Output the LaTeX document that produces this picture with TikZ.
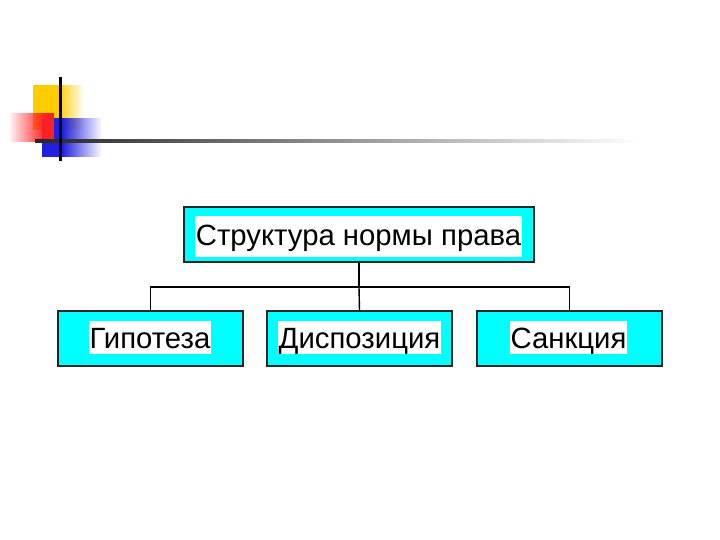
\documentclass[tikz,border=0pt]{standalone}
\usepackage{fontspec}
\setmainfont{Liberation Sans}
\usetikzlibrary{fadings}
\definecolor{boxcyan}{HTML}{00FFFF}
\definecolor{decoyellow}{HTML}{FFCC00}
\definecolor{decored}{HTML}{FF2020}
\definecolor{decoblue}{HTML}{2020E0}
\tikzset{
  box/.style={draw=black!85, line width=1.6pt, fill=boxcyan, inner sep=0pt, minimum height=55pt},
  lbl/.style={fill=white, inner xsep=1pt, inner ysep=3pt, anchor=base, font=\fontsize{29.3}{32}\selectfont, text height=24.5pt, text depth=3pt},
  toplbl/.style={lbl, text height=26pt, text depth=9pt},
  conn/.style={draw=black, line width=1.4pt}
}
\begin{document}
\begin{tikzpicture}[x=1pt,y=-1pt]
\useasboundingbox (0,0) rectangle (720,540);
% decoration
\fill[decoyellow] (33,85) rectangle (58,130);
\fill[decoyellow, path fading=east] (58,85) rectangle (84,130);
\fill[decoblue] (42,118) rectangle (62,157);
\fill[decoblue, path fading=east] (62,118) rectangle (102,157);
\fill[decored] (45,113) rectangle (54,142);
\fill[decored, path fading=west] (8,113) rectangle (45,142);
\shade[left color=black!85, right color=white] (35,139.8) rectangle (640,142.2);
\fill[black!90!blue] (58.5,77) rectangle (61.5,161);
% boxes
\node[box, minimum width=350pt] (top) at (359,234.5) {};
\node[toplbl] (tl) at (358.5,245) {Структура нормы права};
\node[box, minimum width=185pt] (b1) at (150.5,338.5) {};
\node[box, minimum width=185pt] (b2) at (359.5,338.5) {};
\node[box, minimum width=185pt] (b3) at (569.5,338.5) {};
\node[lbl] (l1) at (150,348) {Гипотеза};
\node[lbl] (l2) at (359.5,348) {Диспозиция};
\node[lbl] (l3) at (568.5,348) {Санкция};
% connectors
\coordinate (j) at (359,287);
\draw[conn] (top.south) -- (j);
\draw[conn] (b1.north) |- (j) -| (b3.north);
\draw[conn] (j) -- (b2.north);
\end{tikzpicture}
\end{document}
